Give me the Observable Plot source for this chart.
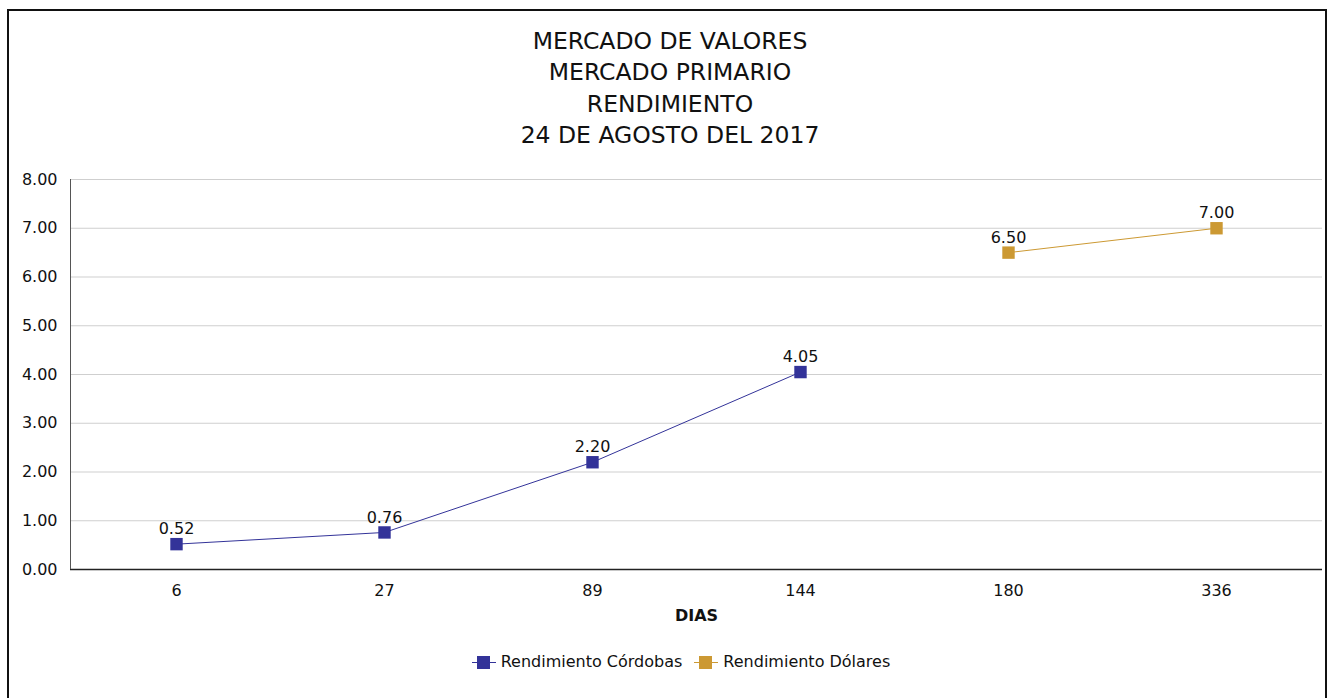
<!DOCTYPE html>
<html><head><meta charset="utf-8">
<script src="https://cdn.jsdelivr.net/npm/d3@7"></script>
<script src="https://cdn.jsdelivr.net/npm/@observablehq/plot@0.6"></script>
<style>
html,body{margin:0;padding:0;background:#fff;overflow:hidden;}
body{width:1330px;height:698px;position:relative;font-family:"DejaVu Sans",Verdana,sans-serif;color:#111;}
#frame{position:absolute;left:7px;top:9px;width:1320px;height:700px;border:2px solid #111;box-sizing:border-box;}
#title{position:absolute;left:0;width:1340px;top:26px;text-align:center;font-size:23.5px;line-height:31.3px;}
#chart{position:absolute;left:0;top:160px;}
#legend{position:absolute;left:0;width:1362px;top:652px;text-align:center;font-size:16px;}
.item{display:inline-flex;align-items:center;margin:0 6px;}
.sw{position:relative;width:24px;height:14px;margin-right:5px;}
.sw .ln{position:absolute;left:0;right:0;top:7px;height:1px;}
.sw .sq{position:absolute;left:5px;top:1px;width:13px;height:13px;}
</style></head>
<body>
<div id="frame"></div>
<div id="title"></div>
<div id="chart"></div>
<div id="legend"></div>
<script>
const titleLines = ["MERCADO DE VALORES","MERCADO PRIMARIO","RENDIMIENTO","24 DE AGOSTO DEL 2017"];
const dias = ["6","27","89","144","180","336"];
const seriesNames = ["Rendimiento Córdobas","Rendimiento Dólares"];
const cordobasDias = ["6","27","89","144"];
const cordobasValues = [0.52,0.76,2.20,4.05];
const dolaresDias = ["180","336"];
const dolaresValues = [6.50,7.00];
const yTicks = [0,1,2,3,4,5,6,7,8];
const colors = ["#333399","#CC9933"];
const xLabel = "DIAS";

document.getElementById("title").innerHTML = titleLines.map(t=>`<div>${t}</div>`).join("");

const data = [
  ...cordobasDias.map((d,i)=>({dia:d, value:cordobasValues[i], serie:seriesNames[0]})),
  ...dolaresDias.map((d,i)=>({dia:d, value:dolaresValues[i], serie:seriesNames[1]}))
];

const chart = Plot.plot({
  width:1330, height:480,
  marginTop:19, marginBottom:71, marginLeft:70, marginRight:8,
  style:{fontFamily:'"DejaVu Sans",Verdana,sans-serif', fontSize:"16px", color:"#111", background:"transparent"},
  x:{type:"point", domain:dias, padding:0.5, label:null},
  y:{domain:[0,8], ticks:yTicks, label:null},
  color:{domain:seriesNames, range:colors},
  marks:[
    Plot.gridY(yTicks.slice(1), {stroke:"#cfcfcf", strokeOpacity:1, strokeWidth:1}),
    Plot.axisY(yTicks, {tickSize:0, tickPadding:13, tickFormat:d=>d.toFixed(2), fontSize:16, label:null}),
    Plot.axisX({tickSize:0, tickPadding:15, fontSize:16, label:null}),
    Plot.ruleY([0], {stroke:"#222", strokeWidth:1.5}),
    Plot.line(data, {x:"dia", y:"value", z:"serie", stroke:"serie", strokeWidth:1}),
    Plot.dot(data, {x:"dia", y:"value", fill:"serie", symbol:"square", r:7}),
    Plot.text(data, {x:"dia", y:"value", text:d=>d.value.toFixed(2), dy:-15, fontSize:16, fill:"#111"}),
    Plot.text([xLabel], {frameAnchor:"bottom", dy:51, text:d=>d, fontWeight:"bold", fontSize:16, fill:"#111"})
  ]
});
document.getElementById("chart").appendChild(chart);
// left axis line
d3.select(chart).append("line").attr("x1",70.5).attr("x2",70.5).attr("y1",19).attr("y2",409).attr("stroke","#555");

document.getElementById("legend").innerHTML = seriesNames.map((n,i)=>
 `<span class="item"><span class="sw"><span class="ln" style="background:${colors[i]}"></span><span class="sq" style="background:${colors[i]}"></span></span>${n}</span>`).join("");
</script>
</body></html>
